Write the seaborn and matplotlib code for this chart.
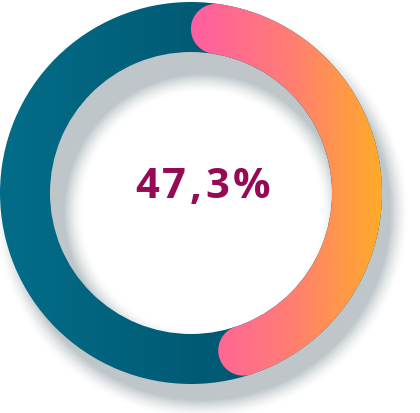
import numpy as np
import matplotlib
matplotlib.use("Agg")
import matplotlib.pyplot as plt
from matplotlib.patches import Wedge, PathPatch
from matplotlib.path import Path
import seaborn as sns

# data
segments = ["share", "rest"]
values = [47.3, 52.7]
label_text = "47,3%"

sns.set_theme(style="white")
plt.rcParams['font.family'] = ['Open Sans', 'DejaVu Sans']

W, H = 420, 413
fig = plt.figure(figsize=(W / 100, H / 100), dpi=100)
ax = fig.add_axes([0, 0, 1, 1])
ax.set_xlim(0, W)
ax.set_ylim(0, H)
ax.axis("off")

# ring geometry (pixels, y up)
cx, cy = 191, 220
r_out, width = 191, 50
r_in = r_out - width
r_mid = r_out - width / 2

# soft shadow, offset to the lower right
sx, sy = 202, 201
s_out, s_in, fade = 188, 138, 19
gx, gy = np.meshgrid(np.arange(W) + 0.5, np.arange(H) + 0.5)
rr = np.hypot(gx - sx, gy - sy)
dist = np.maximum(np.maximum(rr - s_out, s_in - rr), 0)
alpha = np.clip(1 - dist / fade, 0, 1) ** 1.6
shadow = np.zeros((H, W, 4))
shadow[..., :3] = np.array([190, 198, 201]) / 255
shadow[..., 3] = alpha
ax.imshow(shadow, extent=(0, W, 0, H), origin="lower", zorder=1,
          interpolation="bilinear")

# dark teal full ring with a light horizontal gradient
teal_cmap = sns.blend_palette(["#036d89", "#015b75", "#00566f"], as_cmap=True)
ring = Wedge((cx, cy), r_out, 0, 360, width=width, facecolor="none",
             edgecolor="none")
ax.add_patch(ring)
grad = np.linspace(0, 1, 256).reshape(1, -1)
im = ax.imshow(grad, extent=(cx - r_out, cx + r_out, cy - r_out, cy + r_out),
               cmap=teal_cmap, aspect="auto", zorder=2)
im.set_clip_path(ring)

# gradient arc with rounded ends for the share
span = values[0] / sum(values) * 360
cap_deg = np.degrees((width / 2) / r_mid)
a0 = np.radians(90 - cap_deg)
a1 = np.radians(90 - span + cap_deg)

ang = np.linspace(a0, a1, 200)
outer = np.c_[cx + r_out * np.cos(ang), cy + r_out * np.sin(ang)]
inner = np.c_[cx + r_in * np.cos(ang[::-1]), cy + r_in * np.sin(ang[::-1])]

phi = np.linspace(0, np.pi, 60)
u1 = np.array([np.cos(a1), np.sin(a1)])
t1 = np.array([np.sin(a1), -np.cos(a1)])
c1 = np.array([cx, cy]) + r_mid * u1
cap_end = c1 + (width / 2) * (np.outer(np.cos(phi), u1) + np.outer(np.sin(phi), t1))
u0 = np.array([np.cos(a0), np.sin(a0)])
t0 = np.array([np.sin(a0), -np.cos(a0)])
c0 = np.array([cx, cy]) + r_mid * u0
cap_start = c0 + (width / 2) * (np.outer(np.cos(phi), -u0) + np.outer(np.sin(phi), -t0))

verts = np.vstack([outer, cap_end, inner, cap_start, outer[:1]])
codes = [Path.MOVETO] + [Path.LINETO] * (len(verts) - 2) + [Path.CLOSEPOLY]
arc = PathPatch(Path(verts, codes), facecolor="none", edgecolor="none")
ax.add_patch(arc)
warm_cmap = sns.blend_palette(["#ff5ea2", "#ff7c76", "#ffab28"], as_cmap=True)
im2 = ax.imshow(grad, extent=(cx, cx + r_out, cy - r_out, cy + r_out),
                cmap=warm_cmap, aspect="auto", zorder=3)
im2.set_clip_path(arc)

# centre label, letter spaced
renderer = fig.canvas.get_renderer()
track = 3.5
chars = []
for ch in label_text:
    t = ax.text(0, 225, ch, ha="left", va="center", fontsize=30,
                fontweight="bold", color="#960a55", zorder=5)
    chars.append((t, t.get_window_extent(renderer).width))
total = sum(w for _, w in chars) + track * (len(chars) - 1)
x = 202.5 - total / 2
for t, w in chars:
    t.set_x(x)
    x += w + track

fig.savefig("out.png", dpi=100)
